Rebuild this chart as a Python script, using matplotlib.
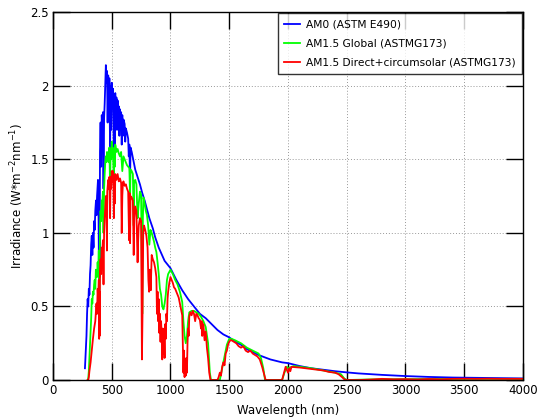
import matplotlib
matplotlib.use("Agg")
import matplotlib.pyplot as plt

# AM0 (ASTM E490)
am0_wl = [272, 280, 285, 290, 295, 300, 305, 310, 315, 320, 325, 330, 335, 340,
          345, 350, 355, 360, 366, 370, 375, 383, 388, 393, 396, 397, 400, 405,
          410, 415, 420, 425, 430, 435, 440, 445, 450, 455, 460, 465, 470, 475,
          480, 486, 490, 495, 500, 505, 510, 515, 518, 522, 527, 530, 535, 540,
          545, 550, 555, 560, 565, 570, 575, 580, 585, 590, 595, 600, 610, 615,
          620, 630, 640, 645, 650, 656, 660, 670, 680, 690, 700, 720, 740, 760,
          780, 800, 820, 850, 870, 900, 950, 1000, 1050, 1100, 1150, 1200, 1250,
          1300, 1350, 1400, 1450, 1500, 1550, 1600, 1650, 1700, 1750, 1800, 1850,
          1900, 1950, 2000, 2100, 2200, 2300, 2400, 2500, 2600, 2700, 2800, 2900,
          3000, 3200, 3400, 3500, 3600, 3800, 4000]
am0_irr = [0.08, 0.22, 0.30, 0.45, 0.55, 0.50, 0.62, 0.58, 0.72, 0.78, 0.92, 0.98,
           0.85, 1.00, 0.90, 1.08, 1.02, 1.15, 1.22, 1.12, 1.25, 1.36, 1.10, 0.55,
           1.00, 0.70, 1.55, 1.75, 1.45, 1.80, 1.72, 1.82, 1.30, 1.78, 1.88, 2.02,
           2.14, 2.02, 2.10, 1.75, 2.07, 1.90, 2.05, 1.55, 2.00, 1.70, 2.02, 1.88,
           1.98, 1.72, 1.55, 1.92, 1.60, 1.95, 1.75, 1.92, 1.70, 1.90, 1.72, 1.86,
           1.66, 1.84, 1.70, 1.82, 1.60, 1.80, 1.66, 1.77, 1.74, 1.62, 1.71, 1.68,
           1.64, 1.52, 1.60, 1.35, 1.58, 1.55, 1.51, 1.47, 1.43, 1.38, 1.33, 1.27,
           1.22, 1.16, 1.10, 1.03, 0.97, 0.90, 0.81, 0.76, 0.68, 0.61, 0.55, 0.50,
           0.45, 0.42, 0.38, 0.34, 0.31, 0.29, 0.26, 0.24, 0.21, 0.19, 0.17, 0.155,
           0.14, 0.13, 0.12, 0.115, 0.095, 0.08, 0.07, 0.06, 0.052, 0.045, 0.04,
           0.035, 0.031, 0.027, 0.021, 0.017, 0.016, 0.015, 0.013, 0.011]

# AM1.5 Global (ASTMG173)
glob_wl = [295, 300, 305, 310, 315, 320, 325, 330, 335, 340, 345, 350, 355, 360,
           365, 370, 375, 380, 385, 390, 393, 397, 400, 405, 410, 415, 420, 425,
           430, 435, 440, 445, 450, 455, 460, 465, 470, 475, 480, 486, 490, 495,
           500, 505, 510, 518, 522, 527, 530, 540, 550, 560, 570, 580, 590, 600,
           610, 620, 630, 640, 650, 656, 660, 670, 680, 687, 690, 700, 710, 720,
           730, 740, 750, 760, 765, 770, 780, 790, 800, 810, 820, 830, 840, 850,
           860, 870, 880, 890, 900, 910, 920, 930, 940, 950, 960, 970, 980, 1000,
           1020, 1040, 1060, 1080, 1100, 1110, 1120, 1130, 1140, 1150, 1160, 1180,
           1200, 1220, 1240, 1260, 1280, 1300, 1320, 1335, 1345, 1420, 1440, 1460,
           1480, 1500, 1520, 1550, 1600, 1650, 1700, 1750, 1770, 1790, 1805, 1950,
           1970, 1990, 2000, 2050, 2100, 2200, 2300, 2400, 2450, 2480, 2500, 2700,
           3000, 3300, 3600, 4000]
glob_irr = [0.0, 0.01, 0.06, 0.15, 0.25, 0.33, 0.42, 0.55, 0.52, 0.60, 0.58, 0.65,
            0.68, 0.62, 0.75, 0.72, 0.70, 0.80, 0.72, 0.88, 0.55, 0.70, 1.05, 1.15,
            1.08, 1.22, 1.20, 1.28, 1.00, 1.30, 1.40, 1.48, 1.52, 1.48, 1.55, 1.50,
            1.52, 1.48, 1.58, 1.30, 1.55, 1.50, 1.62, 1.52, 1.56, 1.35, 1.58, 1.45,
            1.60, 1.55, 1.57, 1.54, 1.52, 1.55, 1.42, 1.52, 1.50, 1.48, 1.46, 1.45,
            1.44, 1.25, 1.43, 1.42, 1.40, 1.05, 1.35, 1.36, 1.33, 1.10, 1.20, 1.28,
            1.26, 0.45, 1.10, 1.24, 1.20, 1.15, 1.12, 1.05, 0.92, 1.02, 1.00, 0.97,
            0.94, 0.90, 0.87, 0.80, 0.72, 0.62, 0.58, 0.50, 0.48, 0.52, 0.58, 0.68,
            0.72, 0.75, 0.72, 0.68, 0.65, 0.60, 0.53, 0.40, 0.30, 0.25, 0.30, 0.40,
            0.46, 0.47, 0.47, 0.46, 0.45, 0.43, 0.40, 0.36, 0.25, 0.05, 0.0, 0.0,
            0.08, 0.16, 0.24, 0.28, 0.28, 0.27, 0.25, 0.22, 0.20, 0.18, 0.15, 0.08,
            0.0, 0.0, 0.05, 0.09, 0.08, 0.095, 0.09, 0.08, 0.065, 0.05, 0.04, 0.01,
            0.0, 0.004, 0.006, 0.007, 0.008, 0.008]

# AM1.5 Direct+circumsolar (ASTMG173)
dir_wl = [295, 300, 305, 310, 320, 330, 340, 350, 360, 370, 375, 380, 385, 390,
          393, 396, 397, 400, 405, 410, 415, 420, 425, 430, 435, 440, 445, 450,
          455, 459, 462, 466, 470, 475, 480, 486, 490, 495, 500, 505, 510, 515,
          518, 522, 527, 530, 540, 550, 560, 570, 580, 585, 590, 595, 600, 610,
          620, 630, 640, 648, 652, 656, 660, 670, 680, 687, 692, 700, 710, 720,
          725, 730, 740, 750, 757, 762, 768, 775, 785, 795, 805, 812, 818, 825,
          832, 840, 850, 860, 870, 880, 885, 890, 895, 900, 905, 910, 915, 920,
          925, 930, 935, 940, 945, 950, 955, 960, 965, 970, 975, 980, 990, 1000,
          1010, 1020, 1030, 1040, 1050, 1060, 1070, 1080, 1090, 1100, 1105, 1110,
          1115, 1120, 1125, 1130, 1135, 1140, 1145, 1150, 1155, 1160, 1170, 1180,
          1190, 1200, 1210, 1220, 1230, 1240, 1250, 1260, 1265, 1270, 1280, 1290,
          1300, 1310, 1320, 1330, 1340, 1400, 1410, 1420, 1430, 1440, 1450, 1460,
          1470, 1480, 1490, 1500, 1510, 1520, 1540, 1560, 1580, 1600, 1620, 1640,
          1660, 1680, 1700, 1720, 1740, 1760, 1780, 1800, 1810, 1950, 1960, 1970,
          1980, 1990, 2000, 2010, 2020, 2030, 2050, 2100, 2150, 2200, 2250, 2300,
          2350, 2400, 2430, 2460, 2480, 2500, 2600, 2700, 2800, 2900, 3000, 3100,
          3200, 3300, 3400, 3500, 3600, 3700, 3800, 3900, 4000]
dir_irr = [0.0, 0.0, 0.02, 0.06, 0.12, 0.20, 0.28, 0.35, 0.40, 0.52, 0.45, 0.62,
           0.55, 0.68, 0.28, 0.60, 0.30, 0.75, 0.82, 0.72, 0.90, 0.88, 0.95, 0.65,
           1.00, 1.10, 1.18, 1.25, 1.20, 0.88, 1.28, 1.32, 1.36, 1.30, 1.38, 1.10,
           1.38, 1.30, 1.42, 1.35, 1.42, 1.30, 1.10, 1.38, 1.20, 1.40, 1.36, 1.40,
           1.35, 1.37, 1.34, 1.00, 1.25, 1.34, 1.35, 1.32, 1.33, 1.30, 1.28, 0.95,
           1.27, 0.93, 1.25, 1.24, 1.22, 0.85, 1.10, 1.18, 1.15, 0.80, 0.95, 1.05,
           1.10, 1.08, 0.14, 0.45, 1.00, 1.05, 1.02, 0.98, 0.90, 0.68, 0.60, 0.75,
           0.61, 0.85, 0.82, 0.80, 0.76, 0.70, 0.45, 0.60, 0.40, 0.55, 0.32, 0.45,
           0.26, 0.40, 0.30, 0.14, 0.35, 0.18, 0.30, 0.15, 0.38, 0.28, 0.45, 0.40,
           0.55, 0.60, 0.66, 0.70, 0.68, 0.66, 0.63, 0.62, 0.60, 0.58, 0.56, 0.52,
           0.48, 0.44, 0.25, 0.05, 0.20, 0.02, 0.12, 0.03, 0.15, 0.05, 0.25, 0.35,
           0.30, 0.43, 0.46, 0.44, 0.47, 0.45, 0.40, 0.45, 0.44, 0.42, 0.41, 0.35,
           0.40, 0.30, 0.38, 0.27, 0.33, 0.22, 0.15, 0.05, 0.0, 0.0, 0.02, 0.05,
           0.03, 0.09, 0.12, 0.10, 0.18, 0.20, 0.24, 0.26, 0.27, 0.27, 0.26, 0.25,
           0.23, 0.22, 0.23, 0.20, 0.19, 0.20, 0.18, 0.17, 0.16, 0.14, 0.09, 0.03,
           0.0, 0.0, 0.03, 0.06, 0.09, 0.07, 0.05, 0.08, 0.06, 0.09, 0.088, 0.085,
           0.08, 0.075, 0.07, 0.065, 0.055, 0.05, 0.04, 0.02, 0.005, 0.0, 0.0,
           0.003, 0.008, 0.005, 0.006, 0.004, 0.007, 0.005, 0.008, 0.009, 0.008,
           0.009, 0.008, 0.008, 0.008]

x_ticks = [0, 500, 1000, 1500, 2000, 2500, 3000, 3500, 4000]
y_ticks = [0, 0.5, 1, 1.5, 2, 2.5]
y_tick_labels = ["0", "0.5", "1", "1.5", "2", "2.5"]

plt.rcParams["font.family"] = "DejaVu Sans"
plt.rcParams["font.size"] = 8

fig = plt.figure(figsize=(5.38, 4.19), dpi=100)
ax = fig.add_axes([0.0985, 0.093, 0.8735, 0.878])

ax.plot(am0_wl, am0_irr, color="#0000ff", linewidth=1.3, label="AM0 (ASTM E490)")
ax.plot(glob_wl, glob_irr, color="#00ff00", linewidth=1.3,
        label="AM1.5 Global (ASTMG173)")
ax.plot(dir_wl, dir_irr, color="#ff0000", linewidth=1.3,
        label="AM1.5 Direct+circumsolar (ASTMG173)")

ax.set_xlim(0, 4000)
ax.set_ylim(0, 2.5)
ax.set_xticks(x_ticks)
ax.set_yticks(y_ticks)
ax.set_yticklabels(y_tick_labels)
ax.tick_params(direction="in", length=12.5, width=1, top=True, right=True,
               labelsize=8.5, colors="black", pad=3)
ax.grid(True, color="#999999", linestyle=(0, (1, 2)), linewidth=0.7)
for sp in ax.spines.values():
    sp.set_linewidth(1)

ax.set_xlabel("Wavelength (nm)", fontsize=8.5, labelpad=5)
ax.set_ylabel("Irradiance (W*m$^{-2}$nm$^{-1}$)", fontsize=8.5, labelpad=3)

leg = ax.legend(loc="upper right", fontsize=7.7, frameon=True, fancybox=False,
                edgecolor="black", borderaxespad=0.1, handlelength=1.5,
                handletextpad=0.5, labelspacing=0.85, borderpad=0.6)
leg.get_frame().set_linewidth(1)

fig.savefig("out.png", dpi=100)
